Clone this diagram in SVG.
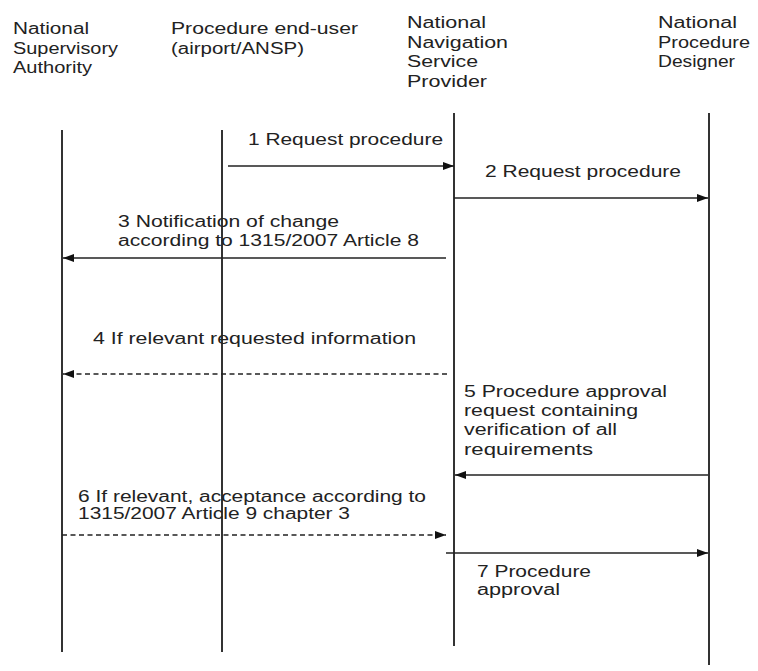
<svg xmlns="http://www.w3.org/2000/svg" width="758" height="671" viewBox="0 0 758 671">
  <style>
    .t { font-family: "Liberation Sans", Arial, sans-serif; font-size: 16px; fill: #222; }
    .life { stroke: #333; stroke-width: 2; fill: none; }
    .msg { stroke: #222; stroke-width: 1.5; fill: none; marker-end: url(#head); }
    .dash { stroke-dasharray: 5 3.5; }
  </style>
  <defs>
    <marker id="head" markerUnits="userSpaceOnUse" markerWidth="12" markerHeight="10" refX="11" refY="4" orient="auto">
      <path d="M0,0 L11,4 L0,8 Z" fill="#111"/>
    </marker>
  </defs>
  <rect width="758" height="671" fill="#fff"/>

  <!-- Participants with their lifelines -->
  <g id="nsa">
    <text class="t" x="13" y="34" textLength="76" lengthAdjust="spacingAndGlyphs">National</text>
    <text class="t" x="13" y="54" textLength="105" lengthAdjust="spacingAndGlyphs">Supervisory</text>
    <text class="t" x="13" y="73" textLength="79" lengthAdjust="spacingAndGlyphs">Authority</text>
    <line class="life" x1="62" y1="130" x2="62" y2="652"/>
  </g>
  <g id="enduser">
    <text class="t" x="171" y="34" textLength="187" lengthAdjust="spacingAndGlyphs">Procedure end-user</text>
    <text class="t" x="171" y="54" textLength="133" lengthAdjust="spacingAndGlyphs">(airport/ANSP)</text>
    <line class="life" x1="222" y1="130" x2="222" y2="652"/>
  </g>
  <g id="nnsp">
    <text class="t" x="407" y="28" textLength="79" lengthAdjust="spacingAndGlyphs">National</text>
    <text class="t" x="407" y="48" textLength="101" lengthAdjust="spacingAndGlyphs">Navigation</text>
    <text class="t" x="407" y="67" textLength="71" lengthAdjust="spacingAndGlyphs">Service</text>
    <text class="t" x="407" y="87" textLength="80" lengthAdjust="spacingAndGlyphs">Provider</text>
    <line class="life" x1="454" y1="113" x2="454" y2="646"/>
  </g>
  <g id="designer">
    <text class="t" x="658" y="28" textLength="79" lengthAdjust="spacingAndGlyphs">National</text>
    <text class="t" x="658" y="48" textLength="92" lengthAdjust="spacingAndGlyphs">Procedure</text>
    <text class="t" x="658" y="67" textLength="77" lengthAdjust="spacingAndGlyphs">Designer</text>
    <line class="life" x1="709" y1="113" x2="709" y2="665"/>
  </g>

  <!-- Messages -->
  <g id="connectors">
    <line class="msg" x1="228" y1="166" x2="454" y2="166"/>
    <line class="msg" x1="454" y1="198" x2="708" y2="198"/>
    <line class="msg" x1="446" y1="258" x2="63" y2="258"/>
    <line class="msg dash" x1="447" y1="374" x2="63" y2="374"/>
    <line class="msg" x1="708" y1="475" x2="455" y2="475"/>
    <line class="msg dash" x1="62" y1="535" x2="446" y2="535"/>
    <line class="msg" x1="446" y1="553" x2="708" y2="553"/>
  </g>

  <!-- Message labels -->
  <g id="labels">
    <text class="t" x="248" y="145" textLength="195" lengthAdjust="spacingAndGlyphs">1 Request procedure</text>
    <text class="t" x="485" y="177" textLength="196" lengthAdjust="spacingAndGlyphs">2 Request procedure</text>
    <text class="t" x="118" y="227" textLength="221" lengthAdjust="spacingAndGlyphs">3 Notification of change</text>
    <text class="t" x="118" y="246" textLength="301" lengthAdjust="spacingAndGlyphs">according to 1315/2007 Article 8</text>
    <text class="t" x="93" y="344" textLength="323" lengthAdjust="spacingAndGlyphs">4 If relevant requested information</text>
    <text class="t" x="464" y="397" textLength="203" lengthAdjust="spacingAndGlyphs">5 Procedure approval</text>
    <text class="t" x="464" y="416" textLength="174" lengthAdjust="spacingAndGlyphs">request containing</text>
    <text class="t" x="464" y="435" textLength="153" lengthAdjust="spacingAndGlyphs">verification of all</text>
    <text class="t" x="464" y="455" textLength="129" lengthAdjust="spacingAndGlyphs">requirements</text>
    <text class="t" x="78" y="502" textLength="348" lengthAdjust="spacingAndGlyphs">6 If relevant, acceptance according to</text>
    <text class="t" x="78" y="519" textLength="272" lengthAdjust="spacingAndGlyphs">1315/2007 Article 9 chapter 3</text>
    <text class="t" x="477" y="577" textLength="114" lengthAdjust="spacingAndGlyphs">7 Procedure</text>
    <text class="t" x="477" y="595" textLength="83" lengthAdjust="spacingAndGlyphs">approval</text>
  </g>
</svg>
